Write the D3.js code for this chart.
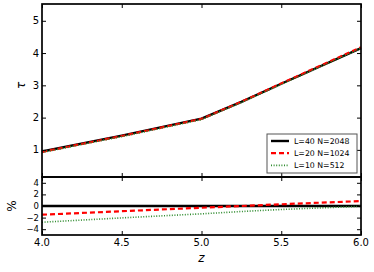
<!DOCTYPE html>
<html><head><meta charset="utf-8">
<script src="https://cdn.jsdelivr.net/npm/d3@7"></script>
<style>body{margin:0;background:#fff}svg{display:block}text{font-family:"DejaVu Sans",sans-serif}</style>
</head><body>
<script>
const zVals = [4.0, 4.5, 5.0, 5.25, 5.5, 6.0];
const tauL40 = [0.95, 1.44, 1.97, 2.49, 3.05, 4.15];
const tauL20 = [0.936, 1.43, 1.96, 2.49, 3.06, 4.18];
const tauL10 = [0.923, 1.41, 1.94, 2.47, 3.03, 4.15];
const pctL40 = [0, 0, 0, 0, 0, 0];
const pctL20 = [-1.5, -0.9, -0.3, 0.0, 0.3, 0.85];
const pctL10 = [-2.8, -2.05, -1.35, -0.95, -0.6, -0.05];
const seriesNames = ["L=40 N=2048", "L=20 N=1024", "L=10 N=512"];
const xTicks = [4.0, 4.5, 5.0, 5.5, 6.0];
const topYTicks = [1, 2, 3, 4, 5];
const botYTicks = [-4, -2, 0, 2, 4];

const W = 374, H = 272;
const L = 42, R = 361, T1 = 4, B1 = 177, B2 = 235;
const svg = d3.select("body").append("svg").attr("width", W).attr("height", H);
const x = d3.scaleLinear().domain([4, 6]).range([L, R]);
const y1 = d3.scaleLinear().domain([0.16, 5.52]).range([B1, T1]);
const y2 = d3.scaleLinear().domain([-5, 5]).range([B2, B1]);

const styles = [
  {color: "#000", width: 2.4, dash: null},
  {color: "#ff0000", width: 2.2, dash: "5,3"},
  {color: "#2e8b2e", width: 1.6, dash: "1,1.6"}
];

function panel(yS, top, bot, yTicks, fs, data) {
  const g = svg.append("g");
  const line = d3.line().x((d, i) => x(zVals[i])).y(d => yS(d));
  data.forEach((arr, k) => {
    g.append("path").attr("d", line(arr)).attr("fill", "none")
      .attr("stroke", styles[k].color).attr("stroke-width", styles[k].width)
      .attr("stroke-dasharray", styles[k].dash);
  });
  const tl = 4;
  g.append("g").attr("transform", `translate(0,${bot})`).call(d3.axisTop(x).tickValues(xTicks).tickSize(tl).tickFormat(""));
  g.append("g").attr("transform", `translate(0,${top})`).call(d3.axisBottom(x).tickValues(xTicks).tickSize(tl).tickFormat(""));
  g.append("g").attr("transform", `translate(${L},0)`).call(d3.axisRight(yS).tickValues(yTicks).tickSize(tl).tickFormat(""));
  g.append("g").attr("transform", `translate(${R},0)`).call(d3.axisLeft(yS).tickValues(yTicks).tickSize(tl).tickFormat(""));
  g.selectAll(".domain").remove();
  g.selectAll(".tick line").attr("stroke", "#000").attr("stroke-width", 1);
  g.selectAll(".tick text").remove();
  yTicks.forEach(v => {
    g.append("text").attr("x", L - 3).attr("y", yS(v)).attr("dy", "0.36em")
      .attr("text-anchor", "end").attr("font-size", fs)
      .text(v < 0 ? "\u2212" + Math.abs(v) : v);
  });
  g.append("rect").attr("x", L).attr("y", top).attr("width", R - L).attr("height", bot - top)
    .attr("fill", "none").attr("stroke", "#000").attr("stroke-width", 1.7);
  return g;
}

panel(y1, T1, B1, topYTicks, 10, [tauL40, tauL20, tauL10]);
panel(y2, B1, B2, botYTicks, 8.5, [pctL40, pctL20, pctL10]);

xTicks.forEach(v => {
  svg.append("text").attr("x", x(v)).attr("y", 246).attr("text-anchor", "middle")
    .attr("font-size", 10).text(v.toFixed(1));
});

svg.append("text").attr("x", x(5)).attr("y", 262).attr("text-anchor", "middle")
  .attr("font-size", 12).attr("font-style", "italic").text("z");
svg.append("text").attr("transform", `translate(25,${y1(3)}) rotate(-90)`).attr("text-anchor", "middle")
  .attr("font-size", 12).attr("font-style", "italic").text("\u03c4");
svg.append("text").attr("transform", `translate(16,${y2(0)}) rotate(-90)`).attr("text-anchor", "middle")
  .attr("font-size", 12).text("%");

const lg = svg.append("g");
lg.append("rect").attr("x", 267).attr("y", 134).attr("width", 90).attr("height", 39)
  .attr("fill", "#fff").attr("stroke", "#555").attr("stroke-width", 1);
seriesNames.forEach((n, k) => {
  const yy = 141 + k * 12.2;
  lg.append("line").attr("x1", 271).attr("x2", 289).attr("y1", yy).attr("y2", yy)
    .attr("stroke", styles[k].color).attr("stroke-width", styles[k].width)
    .attr("stroke-dasharray", styles[k].dash);
  lg.append("text").attr("x", 294).attr("y", yy).attr("dy", "0.35em")
    .attr("font-size", 7.8).text(n);
});
</script>
</body></html>
